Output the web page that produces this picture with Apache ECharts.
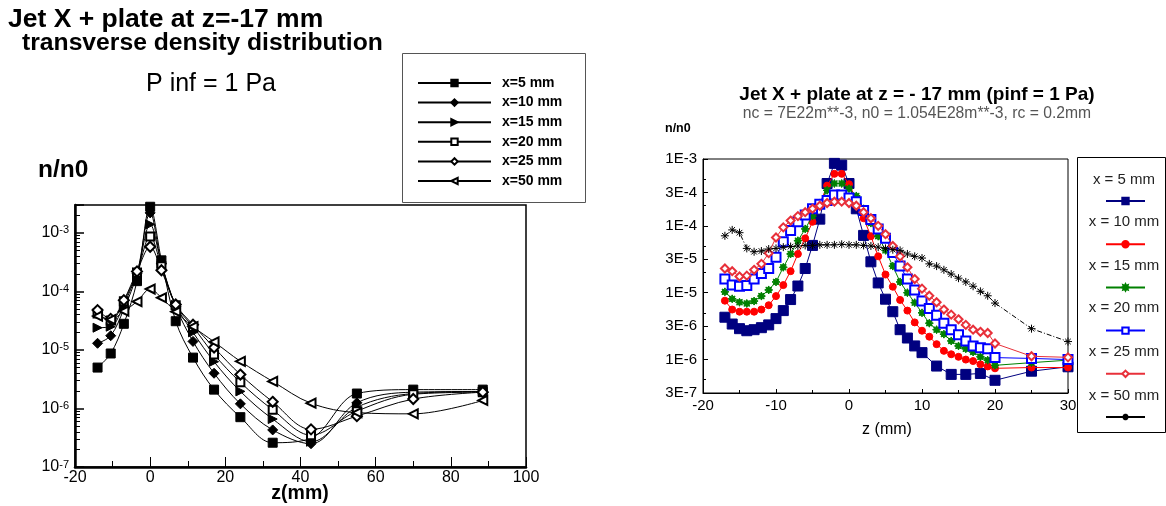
<!DOCTYPE html>
<html><head><meta charset="utf-8">
<script src="https://cdn.jsdelivr.net/npm/echarts@6/dist/echarts.min.js"></script>
<style>html,body{margin:0;padding:0;background:#fff}#c{width:1166px;height:506px}</style>
</head><body><div id="c"></div>
<script>
const FONT = '"Liberation Sans", Arial, Helvetica, sans-serif';

// ---------- LEFT PANEL DATA ----------
const leftZ   = [-14, -10.5, -7, -3.5, 0, 3, 6.8, 11.4, 17, 24, 32.6, 42.8, 55, 70, 88.5];
const leftX5  = [5.0e-6, 8.7e-6, 2.8e-5, 1.5e-4, 2.8e-3, 3.4e-4, 3.1e-5, 7.4e-6, 2.1e-6, 7.1e-7, 2.6e-7, 3.1e-7, 1.8e-6, 2.1e-6, 2.1e-6];
const leftX10 = [1.3e-5, 1.75e-5, 5.0e-5, 2.0e-4, 2.2e-3, 3.0e-4, 5.5e-5, 1.4e-5, 4.0e-6, 1.2e-6, 4.3e-7, 2.5e-7, 1.25e-6, 1.9e-6, 1.95e-6];
const leftX15 = [2.4e-5, 2.5e-5, 6.0e-5, 2.1e-4, 1.4e-3, 3.0e-4, 5.8e-5, 2.0e-5, 6.3e-6, 1.96e-6, 6.6e-7, 2.7e-7, 1.05e-6, 1.8e-6, 1.95e-6];
const leftX20 = [4.2e-5, 3.2e-5, 6.8e-5, 2.1e-4, 8.7e-4, 2.7e-4, 5.8e-5, 2.5e-5, 8.4e-6, 2.8e-6, 9.5e-7, 3.5e-7, 9.0e-7, 1.75e-6, 1.9e-6];
const leftX25 = [4.8e-5, 3.4e-5, 7.1e-5, 2.2e-4, 5.8e-4, 2.3e-4, 6.0e-5, 2.7e-5, 1.1e-5, 3.8e-6, 1.3e-6, 4.4e-7, 7.4e-7, 1.45e-6, 1.9e-6];
const leftX50 = [3.8e-5, 3.3e-5, 4.6e-5, 6.7e-5, 1.1e-4, 7.8e-5, 4.5e-5, 2.5e-5, 1.38e-5, 6.4e-6, 2.9e-6, 1.23e-6, 8.5e-7, 8.1e-7, 1.37e-6];
const leftNames = ['x=5 mm', 'x=10 mm', 'x=15 mm', 'x=20 mm', 'x=25 mm', 'x=50 mm'];
const leftValues = [leftX5, leftX10, leftX15, leftX20, leftX25, leftX50];
const leftXTicks = [-20, 0, 20, 40, 60, 80, 100];
const leftYDecades = [1e-7, 1e-6, 1e-5, 1e-4, 1e-3];

// ---------- RIGHT PANEL DATA ----------
const rightZ = [-17,-16,-15,-14,-13,-12,-11,-10,-9,-8,-7,-6,-5,-4,-3,-2,-1,
                0,1,2,3,4,5,6,7,8,9,10,11,12,13,14,15,16,17,18,19,20,25,30];
const rX5  = [4.3e-6,3.4e-6,2.9e-6,2.7e-6,2.8e-6,3.0e-6,3.3e-6,4.1e-6,5.4e-6,7.9e-6,1.26e-5,2.3e-5,5.1e-5,1.26e-4,4.3e-4,8.6e-4,8.1e-4,
              4.3e-4,1.8e-4,7.2e-5,2.9e-5,1.4e-5,8.0e-6,5.2e-6,2.8e-6,2.1e-6,1.6e-6,1.27e-6,null,8.0e-7,null,6.0e-7,null,6.0e-7,null,6.2e-7,null,4.9e-7,6.7e-7,7.8e-7];
const rX10 = [7.6e-6,5.6e-6,5.2e-6,5.2e-6,5.2e-6,5.6e-6,6.5e-6,8.9e-6,1.3e-5,2.1e-5,3.8e-5,6.5e-5,1.15e-4,2.1e-4,4.0e-4,6.0e-4,6.0e-4,
              4.2e-4,2.5e-4,1.3e-4,7.0e-5,3.5e-5,1.87e-5,1.23e-5,7.8e-6,5.4e-6,3.6e-6,2.7e-6,2.2e-6,1.7e-6,1.35e-6,1.2e-6,1.1e-6,1.0e-6,9.5e-7,8.5e-7,7.9e-7,7.4e-7,7.6e-7,7.6e-7];
const rX15 = [1.03e-5,8.1e-6,7.2e-6,6.9e-6,7.5e-6,8.9e-6,1.1e-5,1.45e-5,2.4e-5,3.8e-5,6.0e-5,9.0e-5,1.4e-4,2.2e-4,3.4e-4,4.3e-4,4.3e-4,
              3.6e-4,2.8e-4,1.8e-4,1.1e-4,7.0e-5,4.3e-5,2.5e-5,1.45e-5,1.0e-5,7.1e-6,5.0e-6,3.5e-6,2.8e-6,2.4e-6,1.9e-6,1.6e-6,1.45e-6,1.3e-6,1.1e-6,9.8e-7,8.2e-7,9.0e-7,9.8e-7];
const rX20 = [1.6e-5,1.3e-5,1.25e-5,1.28e-5,1.6e-5,1.94e-5,2.3e-5,3.4e-5,5.8e-5,8.5e-5,1.15e-4,1.45e-4,1.8e-4,2.1e-4,2.4e-4,2.9e-4,2.9e-4,
              2.6e-4,2.3e-4,1.7e-4,1.25e-4,9.0e-5,6.5e-5,4.0e-5,2.5e-5,1.6e-5,1.1e-5,7.5e-6,5.8e-6,4.6e-6,3.5e-6,2.8e-6,2.35e-6,1.9e-6,1.6e-6,1.5e-6,1.45e-6,1.07e-6,1.04e-6,1.0e-6];
const rX25 = [2.3e-5,2.1e-5,1.75e-5,1.8e-5,2.2e-5,2.7e-5,3.9e-5,6.7e-5,9.5e-5,1.2e-4,1.4e-4,1.6e-4,1.8e-4,2.0e-4,2.2e-4,2.3e-4,2.3e-4,
              2.2e-4,2.0e-4,1.6e-4,1.3e-4,1.0e-4,7.5e-5,5.0e-5,3.5e-5,2.4e-5,1.6e-5,1.15e-5,9.0e-6,7.2e-6,5.6e-6,4.7e-6,4.0e-6,3.3e-6,2.8e-6,2.6e-6,2.5e-6,1.74e-6,1.12e-6,1.08e-6];
const rX50 = [7.1e-5,8.7e-5,7.9e-5,4.6e-5,4.1e-5,4.2e-5,4.5e-5,4.6e-5,4.8e-5,4.9e-5,5.0e-5,5.1e-5,5.1e-5,5.2e-5,5.2e-5,5.2e-5,5.3e-5,
              5.2e-5,5.2e-5,5.1e-5,5.0e-5,4.8e-5,4.6e-5,4.4e-5,4.3e-5,3.8e-5,3.5e-5,3.3e-5,2.7e-5,2.5e-5,2.2e-5,1.9e-5,1.65e-5,1.45e-5,1.25e-5,1.05e-5,9.0e-6,7.0e-6,2.9e-6,1.86e-6];
const rightNames = ['x = 5 mm', 'x = 10 mm', 'x = 15 mm', 'x = 20 mm', 'x = 25 mm', 'x = 50 mm'];
const rightValues = [rX5, rX10, rX15, rX20, rX25, rX50];
const rightXTicks = [-20, -10, 0, 10, 20, 30];
const rightYLabels = ['1E-3','3E-4','1E-4','3E-5','1E-5','3E-6','1E-6','3E-7'];

// ---------- STYLES ----------
const STAR = 'path://M10,0 L5.5,2.3 L7.07,7.07 L2.3,5.5 L0,10 L-2.3,5.5 L-7.07,7.07 L-5.5,2.3 L-10,0 L-5.5,-2.3 L-7.07,-7.07 L-2.3,-5.5 L0,-10 L2.3,-5.5 L7.07,-7.07 L5.5,-2.3 Z';
const ASTER = 'path://M5,0 L5,10 M0,5 L10,5 M1.5,1.5 L8.5,8.5 M1.5,8.5 L8.5,1.5';
const leftSymbols = ['rect', 'diamond', 'triangle', 'emptyRect', 'emptyDiamond', 'emptyTriangle'];
const leftRot = [0, 0, -90, 0, 0, 90];
const leftSizes = [9, 10, 9, 8, 10, 9];
const rightColors = ['#000080', '#ff0000', '#008000', '#0000ff', '#e8303a', '#000000'];
const rightSymbols = ['rect', 'circle', STAR, 'emptyRect', 'emptyDiamond', ASTER];
const rightSizes = [10, 7, 8, 9, 8, 8];

const leftMinor = [];
leftYDecades.forEach(d => { for (let k = 2; k <= 9; k++) { const v = k * d; if (v <= 3e-3) leftMinor.push(v); } });
const rightMinor = [5e-4, 2e-4, 5e-5, 2e-5, 5e-6, 2e-6, 5e-7];

const series = [];
leftNames.forEach((n, i) => {
  series.push({
    name: n, type: 'line', xAxisIndex: 0, yAxisIndex: 0,
    data: leftZ.map((z, j) => [z, leftValues[i][j]]),
    smooth: 0.35, symbol: leftSymbols[i], symbolSize: leftSizes[i], symbolRotate: leftRot[i],
    lineStyle: { color: '#000', width: 1 },
    itemStyle: { color: '#000', borderColor: '#000', borderWidth: 1 },
    animation: false, z: 3
  });
});
rightNames.forEach((n, i) => {
  const isAst = i === 5;
  series.push({
    name: n, type: 'line', xAxisIndex: 1, yAxisIndex: 2,
    data: rightZ.map((z, j) => [z, rightValues[i][j]]).filter(p => p[1] != null),
    connectNulls: true,
    symbol: rightSymbols[i], symbolSize: rightSizes[i],
    lineStyle: { color: rightColors[i], width: 1, type: isAst ? [5, 2, 1, 2] : 'solid' },
    itemStyle: isAst ? { color: '#000', borderColor: '#000', borderWidth: 1 }
                     : { color: rightColors[i], borderColor: rightColors[i], borderWidth: 1 },
    animation: false, z: 3 + i
  });
});

const supLabel = v => {
  const l = Math.log10(v), e = Math.round(l);
  if (Math.abs(l - e) > 1e-6) return '';
  return '{b|10}{s|' + e + '}';
};

const txt = (text, x, y, size, opts) => ({
  type: 'text', x: x, y: y,
  style: { text: text, font: (opts && opts.bold ? 'bold ' : '') + size + 'px ' + FONT,
    fill: (opts && opts.color) || '#000', textAlign: (opts && opts.align) || 'left', textVerticalAlign: 'middle' }
});

const graphics = [
  txt('Jet X + plate at z=-17 mm', 8, 20, 26.5, { bold: true }),
  txt('transverse density distribution', 22, 43, 24.7, { bold: true }),
  txt('P inf = 1 Pa', 211, 84, 25, { align: 'center' }),
  txt('n/n0', 38, 170, 24.5, { bold: true }),
  txt('z(mm)', 300, 494, 19.5, { bold: true, align: 'center' }),
  { type: 'rect', shape: { x: 402.5, y: 53.5, width: 183, height: 149 }, style: { fill: 'none', stroke: '#555', lineWidth: 1 } },
  txt('Jet X + plate at z = - 17 mm (pinf = 1 Pa)', 917, 95, 19, { bold: true, align: 'center' }),
  txt('nc = 7E22m**-3, n0 = 1.054E28m**-3, rc = 0.2mm', 917, 114, 15.7, { align: 'center', color: '#555' }),
  txt('n/n0', 665, 129, 12.5, { bold: true }),
  txt('z (mm)', 887, 430, 16, { align: 'center' }),
  { type: 'rect', shape: { x: 1077.5, y: 157.5, width: 88, height: 275 }, style: { fill: 'none', stroke: '#000', lineWidth: 1 } }
];
const rightLegendY = [180, 222, 266, 308, 352, 396];
rightNames.forEach((n, i) => graphics.push(txt(n, 1124, rightLegendY[i], 15, { align: 'center', color: '#222' })));

const option = {
  backgroundColor: '#fff',
  animation: false,
  grid: [
    { left: 75, top: 205, width: 451, height: 262, show: true, borderColor: '#000', borderWidth: 1.5, backgroundColor: 'transparent' },
    { left: 703, top: 159, width: 365, height: 234, show: true, borderColor: '#000', borderWidth: 1, backgroundColor: 'transparent' }
  ],
  xAxis: [
    { gridIndex: 0, type: 'value', min: leftXTicks[0], max: leftXTicks[leftXTicks.length - 1], interval: 20,
      axisLine: { onZero: false, lineStyle: { color: '#000', width: 2.5 } },
      axisTick: { inside: true, length: 10, lineStyle: { color: '#000', width: 1 } },
      minorTick: { show: true, splitNumber: 2, length: 6, lineStyle: { color: '#000', width: 1 } },
      splitLine: { show: false },
      axisLabel: { fontSize: 16, color: '#000', fontFamily: FONT, margin: 3 } },
    { gridIndex: 1, type: 'value', min: rightXTicks[0], max: rightXTicks[rightXTicks.length - 1], interval: 10,
      axisLine: { onZero: false, lineStyle: { color: '#000', width: 1 } },
      axisTick: { inside: true, length: 4, lineStyle: { color: '#000', width: 1 } },
      minorTick: { show: true, splitNumber: 2, length: 3, lineStyle: { color: '#000', width: 1 } },
      splitLine: { show: false },
      axisLabel: { fontSize: 15, color: '#000', fontFamily: FONT, margin: 5 } }
  ],
  yAxis: [
    { gridIndex: 0, type: 'log', logBase: 10, min: leftYDecades[0], max: 3e-3, position: 'left',
      axisLine: { onZero: false, lineStyle: { color: '#000', width: 2.5 } },
      axisTick: { inside: true, length: 9, lineStyle: { color: '#000', width: 1.5 } },
      splitLine: { show: false },
      axisLabel: { margin: 6, formatter: supLabel,
        rich: { b: { fontSize: 16, fontFamily: FONT, color: '#000' },
                s: { fontSize: 11, fontFamily: FONT, color: '#000', verticalAlign: 'top', padding: [0, 0, 0, 0] } } } },
    { gridIndex: 0, type: 'log', logBase: 10, min: leftYDecades[0], max: 3e-3, position: 'left', offset: 0,
      axisLine: { show: false, onZero: false },
      axisTick: { inside: true, length: 5, customValues: leftMinor, lineStyle: { color: '#000', width: 1 } },
      axisLabel: { show: false }, splitLine: { show: false } },
    { gridIndex: 1, type: 'log', logBase: Math.sqrt(10), min: Math.pow(10, -6.5), max: 1e-3, splitNumber: 7, position: 'left',
      axisLine: { onZero: false, lineStyle: { color: '#000', width: 1 } },
      axisTick: { inside: true, length: 5, lineStyle: { color: '#000', width: 1 } },
      splitLine: { show: false },
      axisLabel: { fontSize: 15, color: '#000', fontFamily: FONT, margin: 6,
        formatter: v => { const s = v.toExponential(0).toUpperCase(); return rightYLabels.indexOf(s) >= 0 ? s : ''; } } },
    { gridIndex: 1, type: 'log', logBase: Math.sqrt(10), min: Math.pow(10, -6.5), max: 1e-3, position: 'left', offset: 0,
      axisLine: { show: false, onZero: false },
      axisTick: { inside: true, length: 3, customValues: rightMinor, lineStyle: { color: '#000', width: 1 } },
      axisLabel: { show: false }, splitLine: { show: false } }
  ],
  legend: [
    { data: leftNames, orient: 'vertical', left: 417, top: 76, padding: 0, itemWidth: 73, itemHeight: 8, itemGap: 5.6,
      selectedMode: false, textStyle: { fontSize: 14, fontWeight: 'bold', fontFamily: FONT, color: '#000', padding: [0, 0, 0, 6] } },
    { data: rightNames.map((n, i) => i === 5 ? { name: n, lineStyle: { type: 'solid' } } : n),
      orient: 'vertical', left: 1105, top: 196, padding: 0, itemWidth: 39, itemHeight: 8, itemGap: 33.2,
      selectedMode: false, formatter: () => ' ', textStyle: { fontSize: 10 } }
  ],
  graphic: graphics,
  series: series
};
const chart = echarts.init(document.getElementById('c'), null, { renderer: 'canvas' });
chart.setOption(option);
</script></body></html>
